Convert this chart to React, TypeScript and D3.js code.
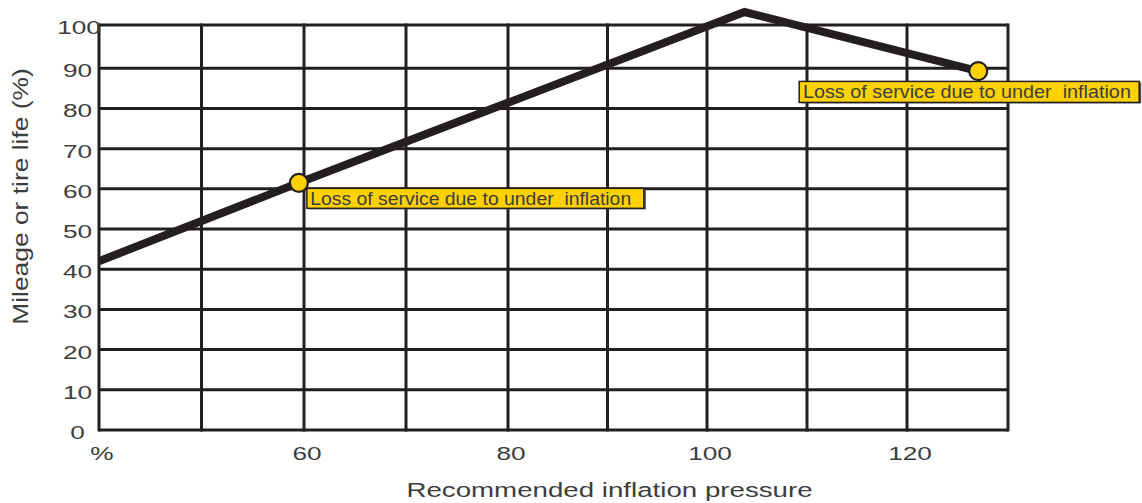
import React from "react";
import * as d3 from "d3";

// ---- data ----
const xGridValues = [40, 50, 60, 70, 80, 90, 100, 110, 120, 130];
const yGridValues = [0, 10, 20, 30, 40, 50, 60, 70, 80, 90, 100];
const xTickValues = [40, 60, 80, 100, 120];
const xTickLabels = ["%", "60", "80", "100", "120"];
const yTickValues = [0, 10, 20, 30, 40, 50, 60, 70, 80, 90, 100];

const curvePressure = [40, 59.5, 103.75, 127.05];
const curveLife = [42, 61.5, 103, 89.3];

const markerPressure = [59.5, 127.05];
const markerLife = [61.5, 89.3];
const markerLabels = [
  "Loss of service due to under  inflation",
  "Loss of service due to under  inflation",
];

const xTitle = "Recommended inflation pressure";
const yTitle = "Mileage or tire life (%)";

// ---- layout / style ----
const W = 1142;
const H = 503;
const INK = "#231f20";
const TEXT = "#3d3d3d";
const YELLOW = "#ffd100";
const FONT = "'Liberation Sans', Arial, Helvetica, sans-serif";
// label box placement relative to its marker
const boxLayout = [
  { dx: 8, dy: 5.5, w: 337, h: 20, tdx: 3.3, tLen: 321 },
  { dx: -179, dy: 10.3, w: 340, h: 21, tdx: 3.7, tLen: 328 },
];

export default function App() {
  const x = d3
    .scaleLinear()
    .domain([40, 60, 80, 100, 120, 130])
    .range([99, 304, 508, 707, 907, 1008]);
  const y = d3.scaleLinear().domain([0, 90, 100]).range([430, 68.3, 25]);

  const left = x(40);
  const right = x(130);
  const top = y(100);
  const bottom = y(0);

  const pts: [number, number][] = curvePressure.map((p, i) => [p, curveLife[i]]);
  const line = d3
    .line<[number, number]>()
    .x((d) => x(d[0]))
    .y((d) => y(d[1]));

  return (
    <svg
      width={W}
      height={H}
      style={{ position: "absolute", left: 0, top: 0, background: "#fff" }}
      fontFamily={FONT}
    >
      {/* grid */}
      <g stroke={INK} strokeWidth={3}>
        {yGridValues.map((v) => (
          <line key={"h" + v} x1={left} x2={right} y1={y(v)} y2={y(v)} />
        ))}
        {xGridValues.map((v) => (
          <line key={"v" + v} x1={x(v)} x2={x(v)} y1={top - 1.5} y2={bottom + 1.5} />
        ))}
      </g>

      {/* y tick labels */}
      <g fill={TEXT} fontSize={19} textAnchor="middle">
        {yTickValues.map((v) => (
          <text
            key={"yt" + v}
            transform={`translate(${v === 100 ? 79 : 77.5},${y(v) + 9}) scale(1.38,1)`}
          >
            {v}
          </text>
        ))}
      </g>

      {/* x tick labels */}
      <g fill={TEXT} fontSize={19} textAnchor="middle">
        {xTickValues.map((v, i) => (
          <text key={"xt" + v} transform={`translate(${x(v) + 3},459.5) scale(1.38,1)`}>
            {xTickLabels[i]}
          </text>
        ))}
      </g>

      {/* axis titles */}
      <text
        fill={TEXT}
        fontSize={19.5}
        textAnchor="middle"
        transform={`translate(609.5,497) scale(1.42,1)`}
      >
        {xTitle}
      </text>
      <text
        fill={TEXT}
        fontSize={22}
        textAnchor="middle"
        transform={`translate(28,196.5) rotate(-90) scale(1.2,1)`}
      >
        {yTitle}
      </text>

      {/* curve */}
      <path
        d={line(pts) || ""}
        fill="none"
        stroke={INK}
        strokeWidth={8}
        strokeLinejoin="miter"
        strokeLinecap="butt"
      />

      {/* markers & labels */}
      {markerPressure.map((p, i) => {
        const cx = x(p);
        const cy = y(markerLife[i]);
        const b = boxLayout[i];
        const bx = cx + b.dx;
        const by = cy + b.dy;
        return (
          <g key={"m" + i}>
            <circle cx={cx} cy={cy} r={9} fill={YELLOW} stroke={INK} strokeWidth={2.2} />
            <rect x={bx + 2} y={by + 1} width={b.w} height={b.h} fill="#555" />
            <rect
              x={bx}
              y={by}
              width={b.w}
              height={b.h}
              fill={YELLOW}
              stroke={INK}
              strokeWidth={1.5}
            />
            <text
              x={bx + b.tdx}
              y={by + 17}
              fontSize={18.6}
              fill={TEXT}
              textLength={b.tLen}
              lengthAdjust="spacingAndGlyphs"
              style={{ whiteSpace: "pre" }}
            >
              {markerLabels[i]}
            </text>
          </g>
        );
      })}
    </svg>
  );
}
